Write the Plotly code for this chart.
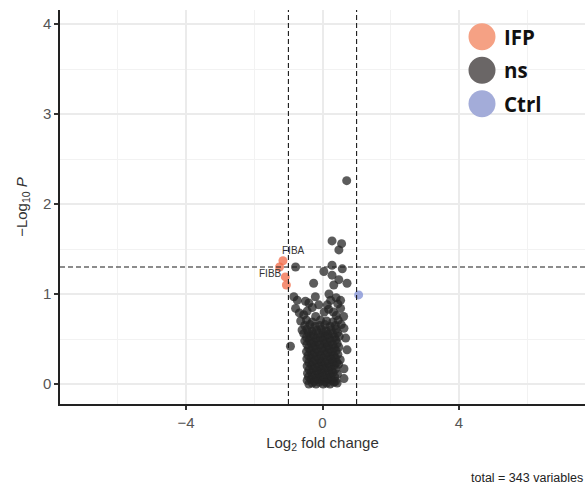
import plotly.graph_objects as go

# ---- data ----
ns_fc = [
    -0.40,-0.30,-0.19,-0.09,0.02,0.12,0.22,0.33,0.43,
    -0.45,-0.34,-0.24,-0.13,-0.03,0.07,0.17,0.28,0.38,
    -0.41,-0.29,-0.18,-0.07,0.04,0.15,0.25,0.36,0.63,
    -0.44,-0.33,-0.22,-0.11,0.00,0.10,0.21,0.31,0.44,
    -0.39,-0.27,-0.16,-0.05,0.06,0.17,0.27,0.39,0.63,
    -0.45,-0.32,-0.21,-0.10,0.01,0.12,0.23,0.35,0.47,
    -0.40,-0.28,-0.15,-0.04,0.08,0.19,0.30,0.42,
    -0.46,-0.34,-0.22,-0.10,0.02,0.14,0.26,0.38,0.52,
    -0.42,-0.29,-0.17,-0.05,0.09,0.21,0.33,0.45,
    -0.47,-0.35,-0.23,-0.11,0.03,0.15,0.27,0.40,0.72,
    -0.94,-0.41,-0.28,-0.16,-0.03,0.10,0.22,0.35,0.48,
    -0.46,-0.33,-0.21,-0.08,0.05,0.17,0.30,0.43,
    -0.52,-0.39,-0.26,-0.13,0.01,0.13,0.26,0.39,0.68,
    -0.47,-0.34,-0.19,-0.06,0.08,0.21,0.35,0.49,
    -0.55,-0.41,-0.27,-0.12,0.02,0.16,0.30,0.44,
    -0.60,-0.46,-0.31,-0.17,-0.03,0.11,0.25,0.40,0.63,
    -0.52,-0.37,-0.22,-0.08,0.07,0.22,0.38,0.55,
    -0.64,-0.47,-0.30,-0.06,0.12,0.30,0.46,
    -0.55,-0.20,0.62,0.40,
    -0.45,0.05,0.32,-0.68,
    -0.79,0.53,-0.30,0.18,
    -0.11,0.14,0.45,-0.40,
    -0.50,0.24,0.53,-0.74,
    -0.84,-0.21,0.19,0.40,
    -0.26,0.33,0.72,0.48,0.28,0.04,0.58,0.28,-0.79,
    0.48,0.56,0.28,0.71,
]
ns_p = [
    0.00,0.01,0.00,0.02,0.00,0.01,0.00,0.02,0.01,
    0.04,0.05,0.03,0.05,0.04,0.03,0.05,0.04,0.03,
    0.08,0.09,0.07,0.09,0.08,0.07,0.09,0.08,0.06,
    0.12,0.13,0.11,0.12,0.13,0.11,0.12,0.13,0.11,
    0.16,0.17,0.15,0.16,0.17,0.15,0.16,0.17,0.17,
    0.20,0.21,0.19,0.20,0.21,0.19,0.20,0.21,0.22,
    0.24,0.25,0.23,0.25,0.24,0.23,0.25,0.24,
    0.28,0.29,0.27,0.28,0.29,0.27,0.28,0.29,0.27,
    0.32,0.33,0.31,0.32,0.33,0.31,0.32,0.33,
    0.36,0.37,0.35,0.36,0.37,0.35,0.36,0.37,0.38,
    0.42,0.40,0.41,0.39,0.40,0.41,0.39,0.40,0.41,
    0.44,0.45,0.43,0.44,0.45,0.43,0.44,0.45,
    0.48,0.49,0.47,0.48,0.49,0.47,0.48,0.49,0.51,
    0.52,0.53,0.51,0.52,0.53,0.51,0.52,0.53,
    0.56,0.57,0.55,0.56,0.57,0.55,0.56,0.57,
    0.60,0.61,0.59,0.60,0.61,0.59,0.60,0.61,0.62,
    0.65,0.66,0.64,0.65,0.66,0.64,0.65,0.66,
    0.70,0.71,0.69,0.71,0.70,0.69,0.71,
    0.77,0.75,0.75,0.76,
    0.81,0.80,0.80,0.79,
    0.84,0.84,0.85,0.83,
    0.88,0.88,0.89,0.90,
    0.92,0.93,0.93,0.93,
    0.97,0.97,1.00,0.96,
    1.12,1.10,1.12,1.16,1.21,1.25,1.28,1.32,1.30,
    1.49,1.56,1.59,2.26,
]
ifp_fc = [-1.16, -1.26, -1.09, -1.06]
ifp_p = [1.37, 1.30, 1.19, 1.10]
ctrl_fc = [1.06]
ctrl_p = [0.99]

x_ticks = [-4, 0, 4]
y_ticks = [0, 1, 2, 3, 4]
fc_cut = 1.0
p_cut = 1.301
legend_names = ["IFP", "ns", "Ctrl"]
legend_colors = ["#F5A184", "#6A6666", "#A3ACD9"]

fig = go.Figure()
fig.add_trace(go.Scatter(x=ns_fc, y=ns_p, mode="markers", name="ns",
                         marker=dict(size=9, color="#262626", opacity=0.75, line=dict(width=0)),
                         showlegend=False))
fig.add_trace(go.Scatter(x=ifp_fc, y=ifp_p, mode="markers", name="IFP",
                         marker=dict(size=9, color="#F26A45", opacity=0.75, line=dict(width=0)),
                         showlegend=False))
fig.add_trace(go.Scatter(x=ctrl_fc, y=ctrl_p, mode="markers", name="Ctrl",
                         marker=dict(size=9, color="#7F8FD6", opacity=0.75, line=dict(width=0)),
                         showlegend=False))

line_style = dict(color="#1a1a1a", width=1.1, dash="5px,3px")
shapes = [
    dict(type="line", xref="x", yref="paper", x0=-fc_cut, x1=-fc_cut, y0=0, y1=1, line=line_style, layer="above"),
    dict(type="line", xref="x", yref="paper", x0=fc_cut, x1=fc_cut, y0=0, y1=1, line=line_style, layer="above"),
    dict(type="line", xref="paper", yref="y", x0=0, x1=1, y0=p_cut, y1=p_cut, line=line_style, layer="above"),
    # legend background
    dict(type="rect", xref="paper", yref="paper", xsizemode="pixel", ysizemode="pixel",
         xanchor=1, yanchor=1, x0=-122, x1=-4, y0=-14, y1=-103,
         fillcolor="white", line=dict(width=0), layer="below"),
]
annotations = []
for i, (nm, col) in enumerate(zip(legend_names, legend_colors)):
    cy = -26.7 - i * 33.5
    shapes.append(dict(type="circle", xref="paper", yref="paper", xsizemode="pixel", ysizemode="pixel",
                       xanchor=1, yanchor=1, x0=-103 - 13.5, x1=-103 + 13.5,
                       y0=cy - 13.5, y1=cy + 13.5, fillcolor=col, line=dict(width=0), layer="above"))
    annotations.append(dict(text="<b>" + nm + "</b>", xref="paper", yref="paper", x=0.842, y=1 + cy / 394,
                            xanchor="left", yanchor="middle", showarrow=False,
                            font=dict(family="Open Sans, Liberation Sans, sans-serif", size=20.5, color="#111111")))

annotations.append(dict(text="FIBA", x=-0.85, y=1.48, xref="x", yref="y", showarrow=False,
                        font=dict(family="Liberation Sans, Arial", size=10, color="#333333")))
annotations.append(dict(text="FIBB", x=-1.53, y=1.23, xref="x", yref="y", showarrow=False,
                        font=dict(family="Liberation Sans, Arial", size=10, color="#333333")))
annotations.append(dict(text="total = 343 variables", xref="paper", yref="paper", x=1, y=-0.188,
                        xanchor="right", yanchor="middle", showarrow=False,
                        font=dict(family="Liberation Sans, Arial", size=12.5, color="#222222")))

axis_common = dict(showline=True, linecolor="#222222", linewidth=1.5, ticks="outside", ticklen=4,
                   tickcolor="#333333", tickwidth=1.5, gridcolor="#ebebeb", gridwidth=1.5,
                   zeroline=False, tickfont=dict(family="Liberation Sans, Arial", size=15, color="#555555"))

fig.update_layout(
    width=585, height=488, margin=dict(l=60, r=0, t=10, b=84),
    plot_bgcolor="white", paper_bgcolor="white",
    shapes=shapes, annotations=annotations, showlegend=False,
    xaxis=dict(range=[-7.7, 7.7], tickvals=x_ticks, **axis_common,
               minor=dict(tickvals=[-6, -2, 2, 6], showgrid=True, gridcolor="#f2f2f2", gridwidth=1, ticks=""),
               title=dict(text="Log<sub>2</sub> fold change", standoff=8,
                          font=dict(family="Liberation Sans, Arial", size=15, color="#333333"))),
    yaxis=dict(range=[-0.222, 4.156], tickvals=y_ticks, **axis_common,
               minor=dict(tickvals=[0.5, 1.5, 2.5, 3.5], showgrid=True, gridcolor="#f2f2f2", gridwidth=1, ticks=""),
               title=dict(text="\u2212Log<sub>10</sub> <i>P</i>", standoff=12,
                          font=dict(family="Liberation Sans, Arial", size=15, color="#333333"))),
)
fig.write_html("out.html")
